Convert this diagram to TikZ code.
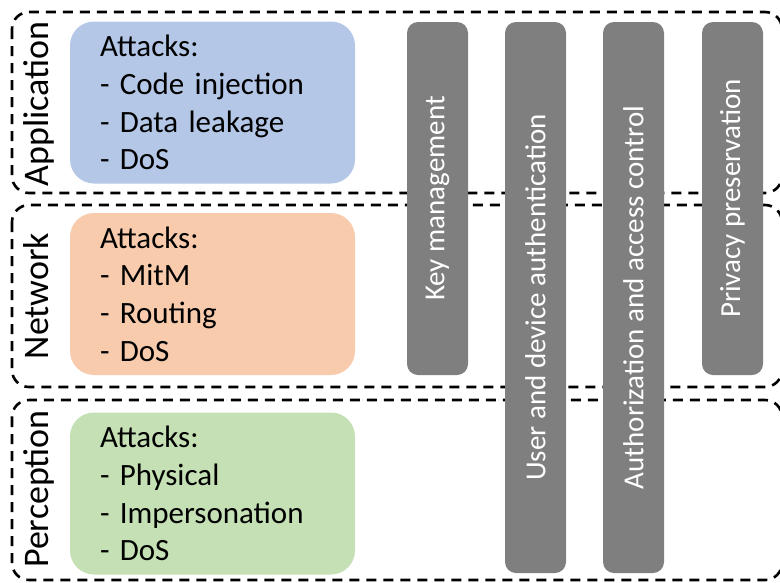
\documentclass[tikz,border=0pt]{standalone}
\usepackage{fontspec}
\setmainfont{Carlito}
\usepackage{tikz}
\usetikzlibrary{positioning}
\definecolor{appblue}{HTML}{B4C7E7}
\definecolor{netorange}{HTML}{F8CBAD}
\definecolor{percgreen}{HTML}{C5E0B4}
\definecolor{bargray}{HTML}{7F7F7F}
\tikzset{
  every picture/.append style={line cap=round,line join=round},
  iot frame/.style={draw=black,line width=2.6pt,line cap=butt,dash pattern=on 10pt off 7pt,rounded corners=17pt},
  iot layer/.style={rotate=90,anchor=base,inner sep=0pt,font=\fontsize{36}{40}\selectfont},
  iot attacks/.style={rounded corners=24pt,minimum width=285pt,minimum height=162pt,text width=225pt,inner xsep=30pt,inner ysep=0pt,align=left,font=\fontsize{31}{37.7}\selectfont},
  iot bar/.style={fill=bargray,rounded corners=11pt,rotate=90,minimum height=61pt,inner sep=0pt,text=white,font=\fontsize{29}{34}\selectfont}
}
\begin{document}
\begin{tikzpicture}[x=1pt,y=-1pt]
  \useasboundingbox (0,0) rectangle (780,582);
  \draw[iot frame] (12,12) rectangle (782,193);
  \draw[iot frame] (12,205) rectangle (782,387);
  \draw[iot frame] (12,400) rectangle (782,580);
  \node[iot layer] (application) at (48,104) {Application};
  \node[iot layer] (network) at (48,296) {Network};
  \node[iot layer] (perception) at (48,489) {Perception};
  \node[iot attacks,fill=appblue] (appattacks) at (212.5,102.5) {Attacks:\\- Code injection\\- Data leakage\\- DoS};
  \node[iot attacks,fill=netorange] (netattacks) at (212.5,294) {Attacks:\\- MitM\\- Routing\\- DoS};
  \node[iot attacks,fill=percgreen] (percattacks) at (212.5,493.5) {Attacks:\\- Physical\\- Impersonation\\- DoS};
  \foreach \name/\x/\y/\len/\txt in {keymgmt/437.5/198.5/353/Key management,
      userauth/535.5/297.5/551/User and device authentication,
      accessctrl/633.5/297.5/551/Authorization and access control,
      privacy/732.5/198.5/353/Privacy preservation}
    \node[iot bar,minimum width=\len pt] (\name) at (\x,\y) {\txt};
\end{tikzpicture}
\end{document}
